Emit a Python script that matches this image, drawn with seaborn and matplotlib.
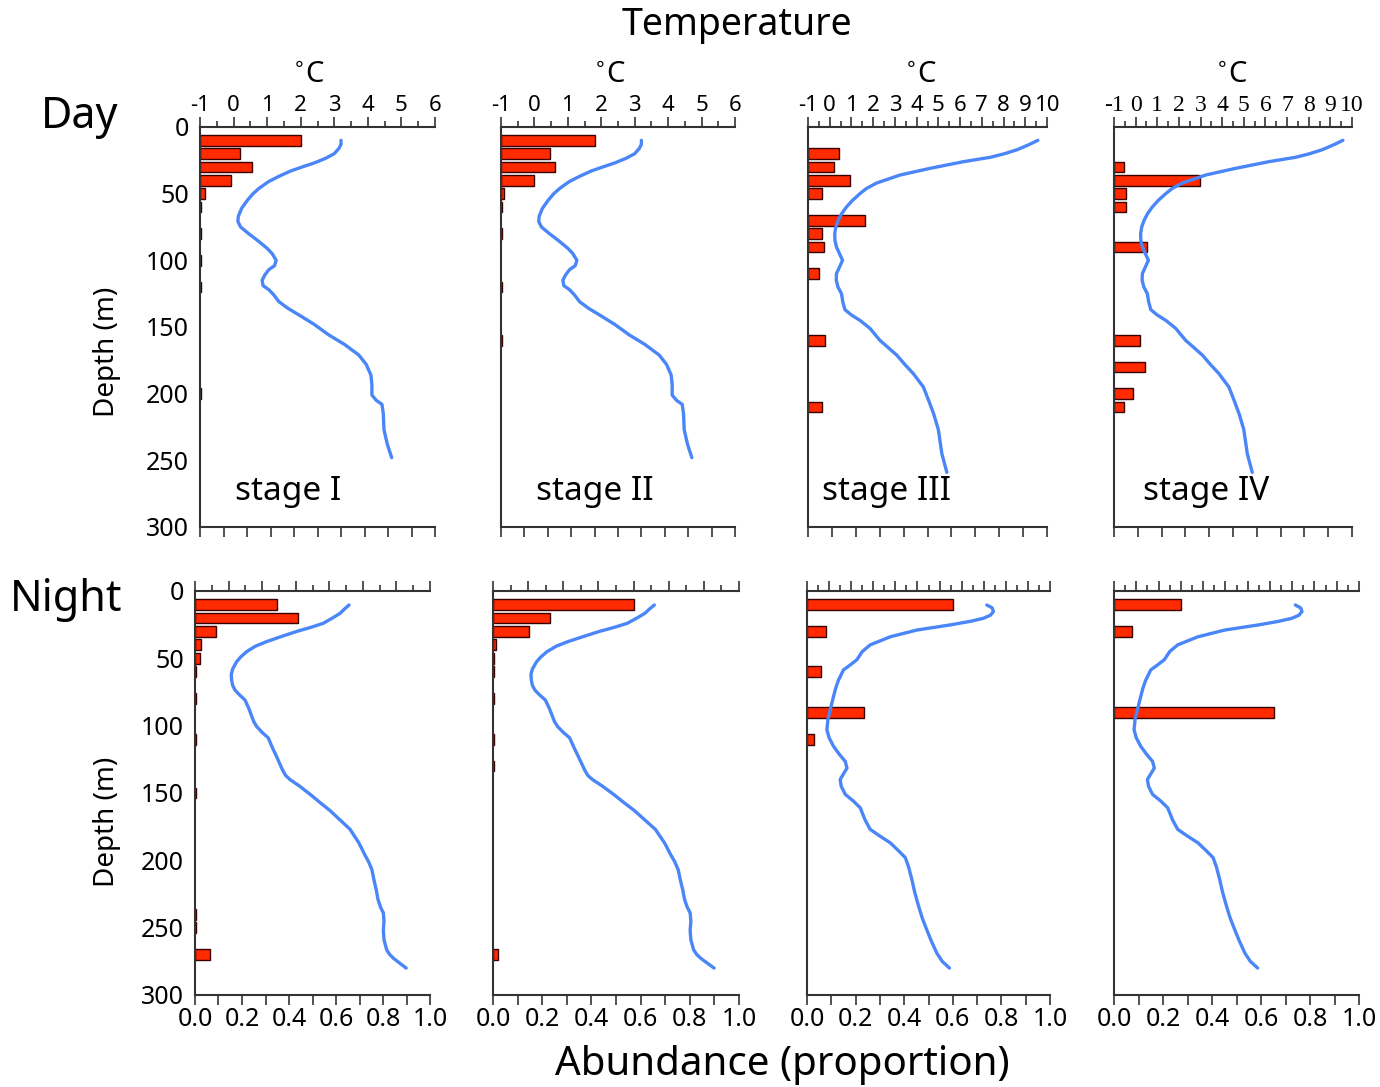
import numpy as np
import matplotlib
matplotlib.use("Agg")
import matplotlib.pyplot as plt
from matplotlib.ticker import MultipleLocator, NullFormatter
import seaborn as sns

# abundance per 10 m depth bin (proportion)
day_I_depth = [10, 20, 30, 40, 50, 60, 80, 100, 120, 200]
day_I_abund = [0.43, 0.17, 0.22, 0.13, 0.02, 0.006, 0.004, 0.005, 0.003, 0.004]
day_II_depth = [10, 20, 30, 40, 50, 60, 80, 120, 160]
day_II_abund = [0.40, 0.21, 0.23, 0.14, 0.014, 0.006, 0.004, 0.003, 0.003]
day_III_depth = [20, 30, 40, 50, 70, 80, 90, 110, 160, 210]
day_III_abund = [0.13, 0.108, 0.176, 0.058, 0.237, 0.058, 0.066, 0.048, 0.07, 0.058]
day_IV_depth = [30, 40, 50, 60, 90, 160, 180, 200, 210]
day_IV_abund = [0.042, 0.36, 0.05, 0.049, 0.14, 0.11, 0.13, 0.08, 0.042]

night_I_depth = [10, 20, 30, 40, 50, 60, 80, 110, 150, 240, 250, 270]
night_I_abund = [0.35, 0.437, 0.09, 0.027, 0.021, 0.006, 0.004, 0.004, 0.005, 0.004, 0.004, 0.063]
night_II_depth = [10, 20, 30, 40, 50, 60, 80, 110, 130, 270]
night_II_abund = [0.573, 0.233, 0.145, 0.013, 0.005, 0.004, 0.003, 0.003, 0.003, 0.02]
night_III_depth = [10, 30, 60, 90, 110]
night_III_abund = [0.60, 0.079, 0.059, 0.233, 0.027]
night_IV_depth = [10, 30, 90]
night_IV_abund = [0.272, 0.075, 0.652]

# temperature profiles (depth m, deg C)
day_t_depth_a = [10, 13, 16, 20, 23.5, 27, 30, 33, 37, 41, 46, 50, 55, 61, 67, 71, 75,
                 80, 86, 91, 95, 100, 104, 107, 111, 115, 119, 122, 126, 131, 136, 141,
                 148, 156, 163, 171, 178, 186, 193, 201, 205, 208, 215, 227, 238, 248]
day_t_a = [3.2, 3.2, 3.14, 3.0, 2.74, 2.4, 2.04, 1.7, 1.35, 1.04, 0.76, 0.58, 0.41, 0.24,
           0.14, 0.13, 0.21, 0.45, 0.76, 1.0, 1.15, 1.27, 1.22, 1.05, 0.93, 0.85, 0.88,
           1.05, 1.2, 1.35, 1.62, 1.95, 2.4, 2.84, 3.3, 3.73, 3.95, 4.09, 4.12, 4.12,
           4.25, 4.42, 4.46, 4.48, 4.58, 4.71]
day_t_depth_b = [10, 13, 17, 20, 22.7, 26, 31, 36, 42, 46, 50, 55, 60, 65, 70, 75, 80, 85,
                 90, 95, 100, 105, 110, 115, 120, 125, 131, 137, 141, 145, 151, 160, 171,
                 178, 185, 195, 205, 215, 227, 236, 245, 259]
day_t_b = [9.58, 9.2, 8.63, 8.05, 7.4, 6.16, 4.62, 3.24, 2.16, 1.7, 1.39, 1.05, 0.77, 0.55,
           0.39, 0.28, 0.23, 0.24, 0.31, 0.45, 0.59, 0.45, 0.31, 0.3, 0.38, 0.54, 0.6,
           0.70, 1.0, 1.39, 1.85, 2.31, 3.08, 3.45, 3.85, 4.31, 4.55, 4.78, 5.0, 5.08,
           5.16, 5.39]
night_t_depth_a = [10.4, 13, 16.6, 20, 24, 27, 30, 34, 37.6, 41, 45, 49, 52.5, 58, 62,
                   66, 70, 73.5, 77, 81, 87, 93, 97, 100.7, 105, 109, 116, 123, 128, 133,
                   137, 140, 145, 151, 157, 163, 170, 177, 187, 196, 201, 207, 214.5, 222,
                   229, 235, 239, 245, 252, 259, 266.5, 270, 272.7, 276, 280]
night_t_a = [3.59, 3.47, 3.32, 3.1, 2.82, 2.45, 2.03, 1.55, 1.13, 0.8, 0.54, 0.36, 0.24,
             0.12, 0.08, 0.09, 0.12, 0.19, 0.32, 0.49, 0.6, 0.69, 0.75, 0.84, 1.0, 1.18,
             1.3, 1.43, 1.52, 1.61, 1.7, 1.83, 2.12, 2.43, 2.72, 3.02, 3.32, 3.62, 3.88,
             4.06, 4.17, 4.27, 4.33, 4.4, 4.45, 4.53, 4.61, 4.63, 4.61, 4.63, 4.71, 4.8,
             4.91, 5.08, 5.29]
night_t_depth_b = [10.4, 12.5, 15.3, 18, 20.3, 22.5, 25.2, 29, 34, 40, 45, 51, 55, 58.6,
                   66, 72, 78.4, 88.3, 95, 103, 109, 115.3, 121, 126.5, 131.5, 135, 140,
                   145, 151, 156, 161, 170, 177, 182, 187, 193, 198, 205, 214.5, 224, 234,
                   243, 251.5, 260, 269, 275, 280]
night_t_b = [7.14, 7.38, 7.44, 7.3, 6.98, 6.4, 5.48, 3.97, 2.77, 1.86, 1.5, 1.26, 0.95, 0.65,
             0.43, 0.3, 0.2, 0.05, -0.05, -0.1, 0.0, 0.2, 0.45, 0.73, 0.81, 0.68, 0.5, 0.55,
             0.73, 1.1, 1.41, 1.63, 1.86, 2.3, 2.77, 3.15, 3.45, 3.6, 3.75, 3.88, 4.05,
             4.22, 4.42, 4.63, 4.88, 5.12, 5.45]

stages = ["stage I", "stage II", "stage III", "stage IV"]
temp_max = [6, 6, 10, 10]

sns.set_style("white")
plt.rcParams["font.family"] = ["Noto Sans", "DejaVu Sans"]
plt.rcParams["axes.unicode_minus"] = False
plt.rcParams["text.color"] = "black"
plt.rcParams["xtick.color"] = "black"
plt.rcParams["ytick.color"] = "black"

BAR_COLOR = "#ff2a00"
LINE_COLOR = "#4a86f7"
SPINE = "#333333"

W, H = 1380, 1087
fig = plt.figure(figsize=(W / 100, H / 100), dpi=100)

# panel extents in pixels: (left, right, top, bottom)
top_cols = [(200, 435), (501, 735), (808, 1047), (1114, 1352)]
bot_cols = [(195, 430), (493, 739), (807, 1050), (1114, 1359)]
top_rows = (127, 527)
bot_rows = (591, 995)
stage_x = [0.374, 0.40, 0.33, 0.387]
deg_x = [309, 610, 921, 1232]


def make_ax(x0, x1, y0, y1):
    return fig.add_axes([x0 / W, 1 - y1 / H, (x1 - x0) / W, (y1 - y0) / H])


def draw_panel(ax, depth, abund, t_depth, t_vals, tmax, day, first, serif_top=False):
    ax.barh(depth, abund, height=8, color=BAR_COLOR, edgecolor="#3a0000", linewidth=1.0, zorder=2)
    ax.set_xlim(0, 1)
    ax.set_ylim(300, 0)
    ax.yaxis.set_major_locator(MultipleLocator(50))
    ax.yaxis.set_minor_locator(MultipleLocator(25))
    ax.xaxis.set_major_locator(MultipleLocator(0.2))
    ax.xaxis.set_minor_locator(MultipleLocator(0.1))
    ax.xaxis.set_major_formatter(plt.FuncFormatter(lambda v, p: f"{v:.1f}"))
    if day:
        ax.set_xticklabels([])
    if not first:
        ax.set_yticklabels([])
    ax.tick_params(axis="both", which="both", direction="out", length=6, width=1.2,
                   color=SPINE, labelsize=18, pad=2)
    ax.tick_params(axis="x", which="both", length=7)
    for s in ["right", "top"]:
        ax.spines[s].set_visible(False)
    for s in ["left", "bottom"]:
        ax.spines[s].set_color(SPINE)
        ax.spines[s].set_linewidth(1.5)
    ax.set_xlabel("")
    ax.set_ylabel("")

    tx = ax.twiny()
    sns.lineplot(x=t_vals, y=t_depth, orient="y", estimator=None, ax=tx,
                 color=LINE_COLOR, lw=2.4, zorder=3)
    tx.set_xlim(-1, tmax)
    tx.set_ylim(300, 0)
    tx.xaxis.set_major_locator(MultipleLocator(1))
    tx.xaxis.set_minor_locator(MultipleLocator(0.5))
    tx.tick_params(axis="x", which="major", direction="out", length=7, width=1.2,
                   color=SPINE, labelsize=16, pad=1)
    tx.tick_params(axis="x", which="minor", direction="out", length=4, width=1.2, color=SPINE)
    if not day:
        tx.xaxis.set_major_formatter(NullFormatter())
    elif serif_top:
        for lab in tx.get_xticklabels():
            lab.set_fontfamily("Liberation Serif")
            lab.set_fontsize(17)
    for s in ["right", "bottom", "left"]:
        tx.spines[s].set_visible(False)
    tx.spines["top"].set_color(SPINE)
    tx.spines["top"].set_linewidth(1.5)
    tx.set_xlabel("")
    tx.set_ylabel("")
    return tx


day_data = [(day_I_depth, day_I_abund, day_t_depth_a, day_t_a),
            (day_II_depth, day_II_abund, day_t_depth_a, day_t_a),
            (day_III_depth, day_III_abund, day_t_depth_b, day_t_b),
            (day_IV_depth, day_IV_abund, day_t_depth_b, day_t_b)]
night_data = [(night_I_depth, night_I_abund, night_t_depth_a, night_t_a),
              (night_II_depth, night_II_abund, night_t_depth_a, night_t_a),
              (night_III_depth, night_III_abund, night_t_depth_b, night_t_b),
              (night_IV_depth, night_IV_abund, night_t_depth_b, night_t_b)]

for i in range(4):
    x0, x1 = top_cols[i]
    ax = make_ax(x0, x1, *top_rows)
    d, a, td, tv = day_data[i]
    draw_panel(ax, d, a, td, tv, temp_max[i], True, i == 0, serif_top=(i == 3))
    ax.text(stage_x[i], 0.09, stages[i], transform=ax.transAxes, ha="center", va="center", fontsize=24)
    fig.text(deg_x[i] / W, 1 - 74 / H, "$^{\\circ}$C", ha="center", va="center", fontsize=21)

    x0, x1 = bot_cols[i]
    ax = make_ax(x0, x1, *bot_rows)
    d, a, td, tv = night_data[i]
    draw_panel(ax, d, a, td, tv, temp_max[i], False, i == 0)

fig.text(737 / W, 1 - 25 / H, "Temperature", ha="center", va="center", fontsize=27)
fig.text(80 / W, 1 - 117 / H, "Day", ha="center", va="center", fontsize=31)
fig.text(66 / W, 1 - 600 / H, "Night", ha="center", va="center", fontsize=31)
fig.text(107 / W, 1 - 352 / H, "Depth (m)", ha="center", va="center", rotation=90, fontsize=20)
fig.text(107 / W, 1 - 822 / H, "Depth (m)", ha="center", va="center", rotation=90, fontsize=20)
fig.text(782 / W, 1 - 1065 / H, "Abundance (proportion)", ha="center", va="center", fontsize=29)

fig.savefig("out.png", dpi=100)
